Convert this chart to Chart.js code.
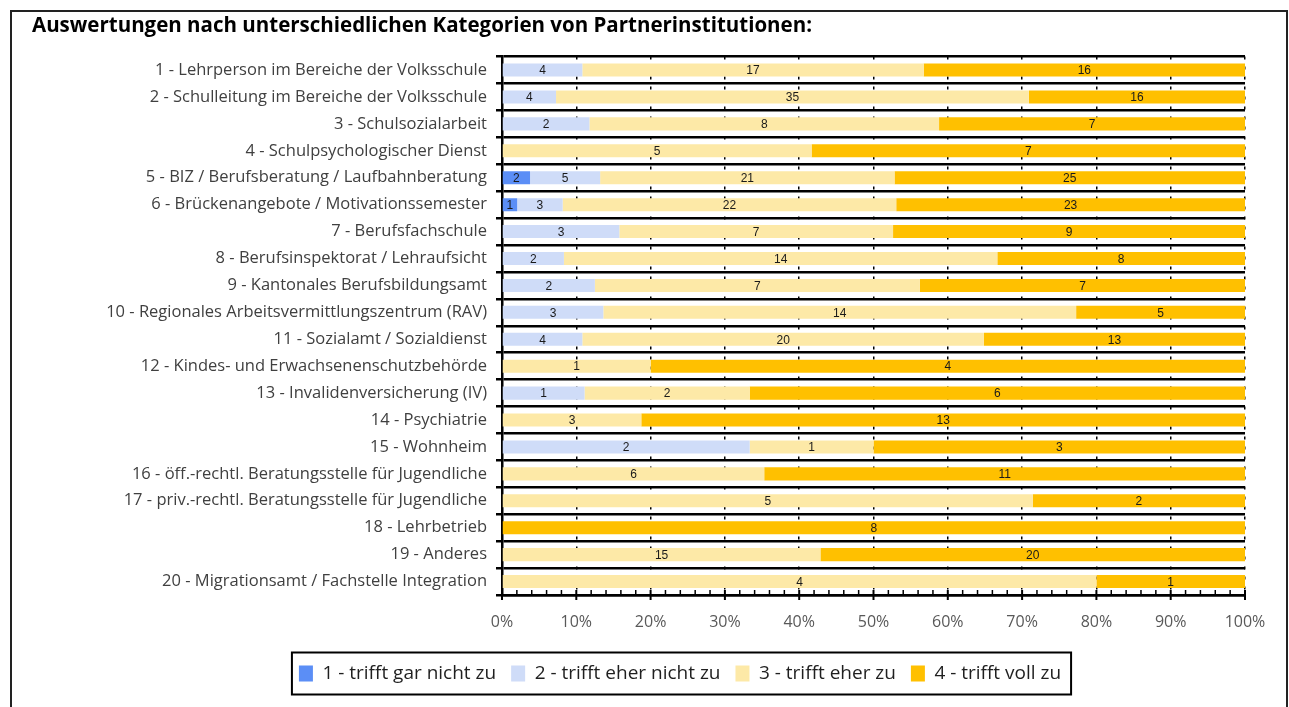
<!DOCTYPE html>
<html>
<head>
<meta charset="utf-8">
<script src="https://cdn.jsdelivr.net/npm/chart.js@4"></script>
<style>
  html, body { margin: 0; padding: 0; background: #fff; overflow: hidden; }
  #frame { position: absolute; left: 10px; top: 10px; width: 1274px; height: 800px; border: 2px solid #222; }
  #c { position: absolute; left: 0; top: 0; }
</style>
</head>
<body>
<div id="frame"></div>
<canvas id="c" width="1289" height="707"></canvas>
<script>
const CATEGORIES = [
  "1 - Lehrperson im Bereiche der Volksschule",
  "2 - Schulleitung im Bereiche der Volksschule",
  "3 - Schulsozialarbeit",
  "4 - Schulpsychologischer Dienst",
  "5 - BIZ / Berufsberatung / Laufbahnberatung",
  "6 - Brückenangebote / Motivationssemester",
  "7 - Berufsfachschule",
  "8 - Berufsinspektorat / Lehraufsicht",
  "9 - Kantonales Berufsbildungsamt",
  "10 - Regionales Arbeitsvermittlungszentrum (RAV)",
  "11 - Sozialamt / Sozialdienst",
  "12 - Kindes- und Erwachsenenschutzbehörde",
  "13 - Invalidenversicherung (IV)",
  "14 - Psychiatrie",
  "15 - Wohnheim",
  "16 - öff.-rechtl. Beratungsstelle für Jugendliche",
  "17 - priv.-rechtl. Beratungsstelle für Jugendliche",
  "18 - Lehrbetrieb",
  "19 - Anderes",
  "20 - Migrationsamt / Fachstelle Integration",
];

// counts per answer, one value per category
const GAR_NICHT  = [0, 0, 0, 0, 2, 1, 0, 0, 0, 0, 0, 0, 0, 0, 0, 0, 0, 0, 0, 0];
const EHER_NICHT = [4, 4, 2, 0, 5, 3, 3, 2, 2, 3, 4, 0, 1, 0, 2, 0, 0, 0, 0, 0];
const EHER_ZU    = [17, 35, 8, 5, 21, 22, 7, 14, 7, 14, 20, 1, 2, 3, 1, 6, 5, 0, 15, 4];
const VOLL_ZU    = [16, 16, 7, 7, 25, 23, 9, 8, 7, 5, 13, 4, 6, 13, 3, 11, 2, 8, 20, 1];

const SERIES = [
  ["1 - trifft gar nicht zu",   GAR_NICHT,  "#5b8ef6"],
  ["2 - trifft eher nicht zu",  EHER_NICHT, "#cfdcf8"],
  ["3 - trifft eher zu",        EHER_ZU,    "#fde9a7"],
  ["4 - trifft voll zu",        VOLL_ZU,    "#ffc000"],
];

const X_TICK_STEP = 2;   // minor ticks every 2 %, labels every 10 %

const TOTALS = CATEGORIES.map((_, j) => SERIES.reduce((s, [, v]) => s + v[j], 0));
const pctOf  = vals => vals.map((v, j) => v / TOTALS[j] * 100);

const FONT = "'Open Sans', 'Noto Sans', sans-serif";

// ── count labels centred in each segment ──
const countLabels = {
  id: "countLabels",
  afterDatasetsDraw(chart) {
    const ctx = chart.ctx;
    ctx.save();
    ctx.font = "12px 'Liberation Sans', Arial, sans-serif";
    ctx.fillStyle = "#1a1a1a";
    ctx.textAlign = "center";
    ctx.textBaseline = "middle";
    chart.data.datasets.forEach((ds, i) => {
      chart.getDatasetMeta(i).data.forEach((bar, j) => {
        const n = ds.counts[j];
        if (!n) return;
        const p = bar.getCenterPoint();
        ctx.fillText(n, p.x, p.y + 1);
      });
    });
    ctx.restore();
  }
};

// ── x-axis tick marks: majors cross the axis, minors point inward ──
const axisTicks = {
  id: "axisTicks",
  afterDraw(chart) {
    const xs = chart.scales.x;
    const y0 = chart.chartArea.bottom;
    const ctx = chart.ctx;
    ctx.save();
    ctx.strokeStyle = "#000";
    for (const t of xs.ticks) {
      const x = xs.getPixelForValue(t.value);
      const major = t.value % 10 === 0;
      ctx.lineWidth = major ? 2 : 1.5;
      ctx.beginPath();
      ctx.moveTo(x, y0 - 5);
      ctx.lineTo(x, major ? y0 + 5 : y0);
      ctx.stroke();
    }
    ctx.restore();
  }
};

// ── legend: shift to where it sits in the original and box it ──
const legendFrame = {
  id: "legendFrame",
  afterLayout(chart) {
    const lg = chart.legend;
    const dx = 680 - (lg.left + lg.right) / 2;
    lg.left += dx;
    lg.right += dx;
  },
  afterDraw(chart) {
    const boxes = chart.legend.legendHitBoxes;
    if (!boxes || !boxes.length) return;
    const left  = Math.min(...boxes.map(b => b.left)) - 7;
    const right = Math.max(...boxes.map(b => b.left + b.width)) + 10;
    const cy    = boxes[0].top + boxes[0].height / 2;
    const ctx = chart.ctx;
    ctx.save();
    ctx.lineWidth = 2;
    ctx.strokeStyle = "#000";
    ctx.strokeRect(left, cy - 21, right - left, 42);
    ctx.restore();
  }
};

new Chart(document.getElementById("c"), {
  type: "bar",
  data: {
    labels: CATEGORIES,
    datasets: SERIES.map(([label, vals, color]) => ({
      label,
      data: pctOf(vals),
      counts: vals,
      backgroundColor: color,
      borderWidth: 0,
      barPercentage: 0.97,
      categoryPercentage: 0.5,
    }))
  },
  options: {
    indexAxis: "y",
    responsive: false,
    animation: false,
    layout: { padding: { left: 32, right: 44, top: 0, bottom: 14 } },
    plugins: {
      title: {
        display: true,
        align: "start",
        text: "Auswertungen nach unterschiedlichen Kategorien von Partnerinstitutionen:",
        color: "#000",
        font: { family: FONT, size: 20.5, weight: "bold" },
        padding: { top: 14, bottom: 18 }
      },
      legend: {
        position: "bottom",
        labels: {
          color: "#1f1f1f",
          font: { family: FONT, size: 19 },
          boxWidth: 14,
          boxHeight: 16,
          padding: 15
        }
      },
      tooltip: { enabled: false }
    },
    scales: {
      x: {
        stacked: true,
        min: 0, max: 100,
        ticks: {
          stepSize: X_TICK_STEP,
          autoSkip: false,
          maxRotation: 0,
          color: "#595959",
          font: { family: FONT, size: 16 },
          padding: 10,
          callback: v => v % 10 === 0 ? v + "%" : ""
        },
        grid: {
          color: c => (c.tick && c.tick.value % 10 === 0) ? "#000" : "rgba(0,0,0,0)",
          lineWidth: 1.5,
          tickColor: "rgba(0,0,0,0)",
          tickLength: 8
        },
        border: { color: "#000", width: 2.5, dash: [3, 7] },
        afterFit: s => { s.height = 54; }
      },
      y: {
        stacked: true,
        ticks: {
          autoSkip: false,
          color: "#404040",
          font: { family: FONT, size: 16.5 },
          padding: 9
        },
        grid: { offset: true, color: "#000", lineWidth: 2.5, tickLength: 6 },
        border: { color: "#000", width: 2.5 },
        afterFit: s => { s.width = 470; }
      }
    }
  },
  plugins: [countLabels, axisTicks, legendFrame]
});
</script>
</body>
</html>
